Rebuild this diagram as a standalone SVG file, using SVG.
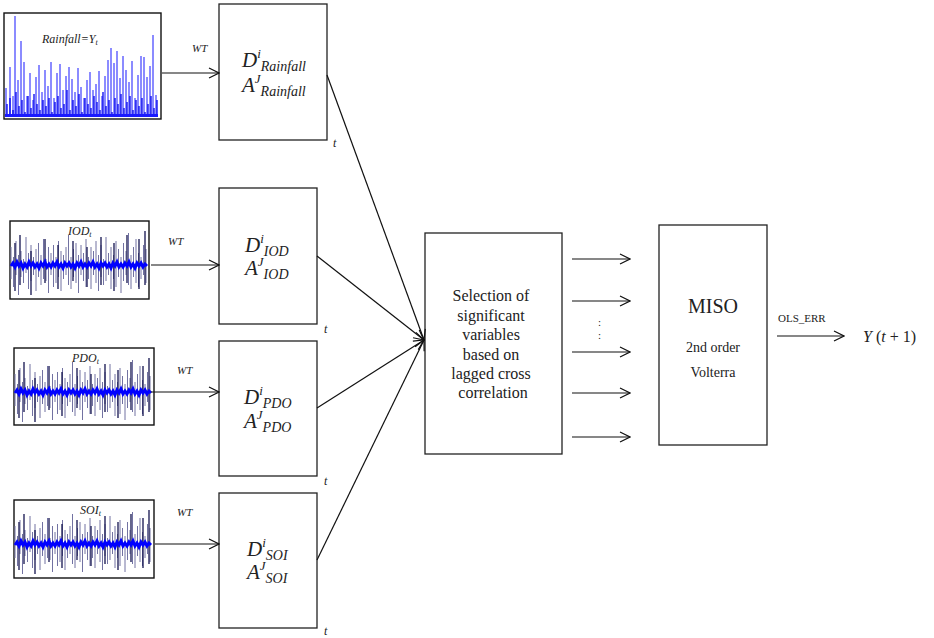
<svg xmlns="http://www.w3.org/2000/svg" width="934" height="638" viewBox="0 0 934 638">
<style>
.box{fill:#fff;stroke:#222;stroke-width:1.3}
.chart{fill:#fff;stroke:#111;stroke-width:1.4}
.lbl{font-family:"Liberation Serif",serif;font-style:italic;fill:#222}
.txt{font-family:"Liberation Serif",serif;fill:#222}
.con{fill:none;stroke:#111;stroke-width:1.2}
</style>
<defs>
<marker id="ah" viewBox="0 0 12 12" refX="11" refY="6" markerWidth="12" markerHeight="12" markerUnits="userSpaceOnUse" orient="auto">
<path d="M1,1 L11,6 L1,11" fill="none" stroke="#111" stroke-width="1.2"/>
</marker>
<g id="noise">
<path d="M0 -18V14M2.5 -8V22M5 -24V10M7.5 -10V30M10 -14V12M12.5 -6V18M15 -28V8M17.5 -12V24M20 -20V16M22.5 -8V10M25 -16V26M27.5 -22V12M30 -10V20M32.5 -26V14M35 -6V16M37.5 -18V28M40 -12V10M42.5 -20V22M45 -8V18M47.5 -24V12M50 -14V26M52.5 -10V14M55 -18V10M57.5 -30V20M60 -8V24M62.5 -16V12M65 -22V18M67.5 -10V28M70 -20V10M72.5 -12V16M75 -26V22M77.5 -8V14M80 -18V24M82.5 -14V10M85 -24V18M87.5 -10V26M90 -20V12M92.5 -6V20M95 -28V16M97.5 -12V10M100 -18V24M102.5 -10V14M105 -24V22M107.5 -16V12M110 -8V28M112.5 -22V16M115 -14V10M117.5 -32V20M120 -10V24M122.5 -18V12M125 -26V18M127.5 -12V22M130 -8V14M132.5 -20V10M135 -16V18" stroke="#7272a2" stroke-width="1"/>
<path d="M4 -22V26M9 -30V20M20 -14V30M34 -26V18M47 -20V24M62 -24V16M76 -18V22M90 -28V20M103 -22V26M116 -30V18M128 -26V24M134 -34V20" stroke="#151550" stroke-width="1.3"/>
<polyline points="0,1 2,-2 4,2 6,-3 8,1 10,-2 12,3 14,-1 16,2 18,-3 20,1 22,-2 24,2 26,-1 28,3 30,-2 32,1 34,-3 36,2 38,-1 40,2 42,-2 44,1 46,-3 48,2 50,-1 52,3 54,-2 56,1 58,-2 60,2 62,-1 64,3 66,-2 68,1 70,-3 72,2 74,-1 76,2 78,-2 80,1 82,-3 84,2 86,-1 88,3 90,-2 92,1 94,-2 96,2 98,-1 100,3 102,-2 104,1 106,-3 108,2 110,-1 112,2 114,-2 116,1 118,-3 120,2 122,-1 124,3 126,-2 128,1 130,-2 132,2 134,-1 136,1" fill="none" stroke="#0000ff" stroke-width="3"/>
</g>
</defs>
<rect width="934" height="638" fill="#fff"/>

<g id="rainfall-series">
<rect class="chart" x="4" y="13" width="157" height="106"/>
<path d="M6 117V88M10 117V67M13 117V96M15 117V16M18 117V80M21 117V41M24 117V62M27 117V96M30 117V73M33 117V100M36 117V77M39 117V65M42 117V92M45 117V70M48 117V86M51 117V62M54 117V98M57 117V73M60 117V64M63 117V90M66 117V76M69 117V67M72 117V79M75 117V92M78 117V68M81 117V87M84 117V98M87 117V80M90 117V72M93 117V90M96 117V84M99 117V71M102 117V96M105 117V76M108 117V60M111 117V48M114 117V63M117 117V51M120 117V78M123 117V56M126 117V70M129 117V82M132 117V61M135 117V98M138 117V75M141 117V56M144 117V57M147 117V77M150 117V66M153 117V35M156 117V95" stroke="#7f7fff" stroke-width="1.8"/>
<path d="M7 117V104M10 117V98M13 117V110M16 117V92M19 117V106M22 117V100M25 117V112M28 117V96M31 117V108M34 117V94M37 117V104M40 117V110M43 117V100M46 117V106M49 117V98M52 117V112M55 117V102M58 117V96M61 117V108M64 117V104M67 117V90M70 117V110M73 117V100M76 117V106M79 117V94M82 117V112M85 117V98M88 117V104M91 117V108M94 117V96M97 117V102M100 117V110M103 117V92M106 117V106M109 117V100M112 117V112M115 117V98M118 117V104M121 117V94M124 117V108M127 117V102M130 117V96M133 117V110M136 117V100M139 117V106M142 117V98M145 117V112M148 117V104M151 117V96M154 117V108M157 117V100" stroke="#0000f0" stroke-width="1.3"/>
<rect x="5" y="114" width="153" height="3" fill="#1a1aff"/>
<text class="lbl" x="42" y="43" font-size="12">Rainfall=Y<tspan font-size="8" dy="2">t</tspan></text>
</g>

<g id="iod-series">
<rect class="chart" x="10" y="221" width="139" height="78"/>
<use href="#noise" transform="translate(11,265)"/>
<text class="lbl" x="68" y="235" font-size="12">IOD<tspan font-size="8" dy="2">t</tspan></text>
</g>

<g id="pdo-series">
<rect class="chart" x="14" y="348" width="140" height="77"/>
<use href="#noise" transform="translate(15,392)"/>
<text class="lbl" x="72" y="362" font-size="12">PDO<tspan font-size="8" dy="2">t</tspan></text>
</g>

<g id="soi-series">
<rect class="chart" x="14" y="500" width="140" height="78"/>
<use href="#noise" transform="translate(15,544)"/>
<text class="lbl" x="80" y="514" font-size="12">SOI<tspan font-size="8" dy="2">t</tspan></text>
</g>

<g id="wt-rainfall">
<rect class="box" x="219" y="4" width="108" height="136"/>
<text class="lbl" x="242" y="67" font-size="21">D<tspan font-size="13" dy="-9">i</tspan><tspan font-size="14" dy="13">Rainfall</tspan></text>
<text class="lbl" x="242" y="92" font-size="21">A<tspan font-size="13" dy="-9">J</tspan><tspan font-size="14" dy="13">Rainfall</tspan></text>
<text class="lbl" x="333" y="147" font-size="12">t</text>
</g>

<g id="wt-iod">
<rect class="box" x="219" y="188" width="98" height="136"/>
<text class="lbl" x="245" y="252" font-size="21">D<tspan font-size="13" dy="-9">i</tspan><tspan font-size="14" dy="13">IOD</tspan></text>
<text class="lbl" x="245" y="275" font-size="21">A<tspan font-size="13" dy="-9">J</tspan><tspan font-size="14" dy="13">IOD</tspan></text>
<text class="lbl" x="324" y="333" font-size="12">t</text>
</g>

<g id="wt-pdo">
<rect class="box" x="219" y="341" width="98" height="135"/>
<text class="lbl" x="244" y="404" font-size="21">D<tspan font-size="13" dy="-9">i</tspan><tspan font-size="14" dy="13">PDO</tspan></text>
<text class="lbl" x="244" y="428" font-size="21">A<tspan font-size="13" dy="-9">J</tspan><tspan font-size="14" dy="13">PDO</tspan></text>
<text class="lbl" x="324" y="485" font-size="12">t</text>
</g>

<g id="wt-soi">
<rect class="box" x="219" y="493" width="98" height="135"/>
<text class="lbl" x="247" y="556" font-size="21">D<tspan font-size="13" dy="-9">i</tspan><tspan font-size="14" dy="13">SOI</tspan></text>
<text class="lbl" x="247" y="579" font-size="21">A<tspan font-size="13" dy="-9">J</tspan><tspan font-size="14" dy="13">SOI</tspan></text>
<text class="lbl" x="324" y="635" font-size="12">t</text>
</g>

<g id="selection">
<rect class="box" x="425" y="233" width="137" height="221"/>
<text class="txt" font-size="16" text-anchor="middle">
<tspan x="493" y="301">Selection of</tspan>
<tspan x="493" y="321">significant</tspan>
<tspan x="493" y="340">variables</tspan>
<tspan x="493" y="360">based on</tspan>
<tspan x="493" y="379">lagged cross</tspan>
<tspan x="493" y="398">correlation</tspan>
</text>
</g>

<g id="miso">
<rect class="box" x="659" y="225" width="108" height="220"/>
<text class="txt" x="713" y="313" font-size="20" text-anchor="middle">MISO</text>
<text class="txt" x="713" y="352" font-size="14" text-anchor="middle">2nd order</text>
<text class="txt" x="713" y="377" font-size="14" text-anchor="middle">Volterra</text>
</g>

<g id="output">
<text class="txt" x="863" y="342" font-size="16"><tspan font-style="italic">Y</tspan> (<tspan font-style="italic">t</tspan> + 1)</text>
</g>

<g id="connectors">
<path class="con" d="M162 73H219" marker-end="url(#ah)"/>
<path class="con" d="M151 265H219" marker-end="url(#ah)"/>
<path class="con" d="M151 392H219" marker-end="url(#ah)"/>
<path class="con" d="M155 544H219" marker-end="url(#ah)"/>
<path class="con" d="M327 75L424 340" marker-end="url(#ah)"/>
<path class="con" d="M317 256L424 340" marker-end="url(#ah)"/>
<path class="con" d="M317 408L424 340" marker-end="url(#ah)"/>
<path class="con" d="M317 560L424 340" marker-end="url(#ah)"/>
<path class="con" d="M572 259H630" marker-end="url(#ah)"/>
<path class="con" d="M572 301H630" marker-end="url(#ah)"/>
<path class="con" d="M572 352H630" marker-end="url(#ah)"/>
<path class="con" d="M572 393H630" marker-end="url(#ah)"/>
<path class="con" d="M572 437H630" marker-end="url(#ah)"/>
<path class="con" d="M777 336H844" marker-end="url(#ah)"/>
<text class="lbl" x="192" y="52" font-size="11">WT</text>
<text class="lbl" x="168" y="245" font-size="11">WT</text>
<text class="lbl" x="177" y="374" font-size="11">WT</text>
<text class="lbl" x="177" y="516" font-size="11">WT</text>
<text class="txt" x="598" y="326" font-size="11">:</text>
<text class="txt" x="598" y="339" font-size="11">:</text>
<text class="txt" x="778" y="322" font-size="11">OLS_ERR</text>
</g>
</svg>
